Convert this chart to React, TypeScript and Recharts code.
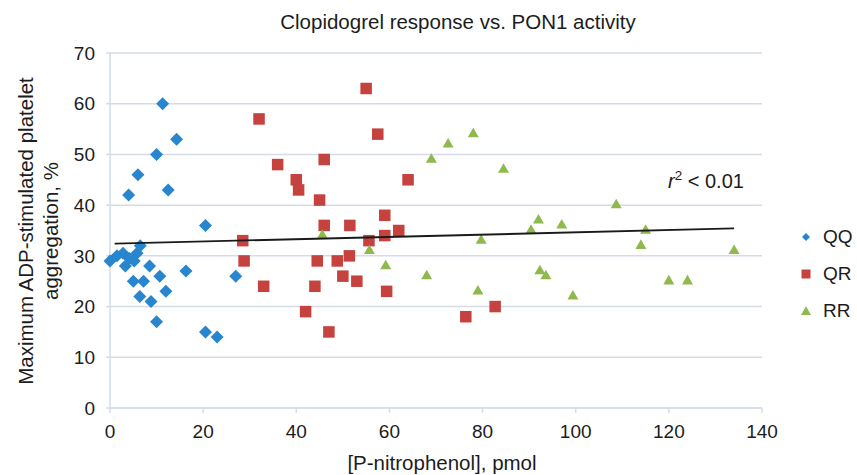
import { ScatterChart, Scatter, XAxis, YAxis, CartesianGrid, Legend } from "recharts";

const xTicks = [0, 20, 40, 60, 80, 100, 120, 140];
const yTicks = [0, 10, 20, 30, 40, 50, 60, 70];

// PON1 activity (pmol p-nitrophenol) vs. ADP-stimulated aggregation (%)
const qqPoints = [
  { x: 11.3, y: 60 }, { x: 14.3, y: 53 }, { x: 10, y: 50 }, { x: 6, y: 46 },
  { x: 12.5, y: 43 }, { x: 4, y: 42 }, { x: 20.5, y: 36 }, { x: 6.5, y: 32 },
  { x: 0, y: 29 }, { x: 1.5, y: 30 }, { x: 2.8, y: 30.5 }, { x: 3.3, y: 28 },
  { x: 4.2, y: 29.5 }, { x: 5.2, y: 29 }, { x: 5.8, y: 30.5 }, { x: 8.5, y: 28 },
  { x: 10.7, y: 26 }, { x: 16.3, y: 27 }, { x: 5, y: 25 }, { x: 7.2, y: 25 },
  { x: 12, y: 23 }, { x: 6.4, y: 22 }, { x: 8.8, y: 21 }, { x: 10, y: 17 },
  { x: 20.5, y: 15 }, { x: 23, y: 14 }, { x: 27, y: 26 },
];

const qrPoints = [
  { x: 55, y: 63 }, { x: 32, y: 57 }, { x: 57.5, y: 54 }, { x: 36, y: 48 },
  { x: 46, y: 49 }, { x: 64, y: 45 }, { x: 40, y: 45 }, { x: 40.5, y: 43 },
  { x: 45, y: 41 }, { x: 59, y: 38 }, { x: 46, y: 36 }, { x: 51.5, y: 36 },
  { x: 62, y: 35 }, { x: 59, y: 34 }, { x: 55.6, y: 33 }, { x: 28.5, y: 33 },
  { x: 28.8, y: 29 }, { x: 51.4, y: 30 }, { x: 48.8, y: 29 }, { x: 44.5, y: 29 },
  { x: 50, y: 26 }, { x: 53, y: 25 }, { x: 33, y: 24 }, { x: 44, y: 24 },
  { x: 59.4, y: 23 }, { x: 42, y: 19 }, { x: 47, y: 15 }, { x: 76.4, y: 18 },
  { x: 82.7, y: 20 },
];

const rrPoints = [
  { x: 78, y: 54 }, { x: 72.6, y: 52 }, { x: 69, y: 49 }, { x: 84.5, y: 47 },
  { x: 92, y: 37 }, { x: 97, y: 36 }, { x: 90.4, y: 35 }, { x: 79.7, y: 33 },
  { x: 68, y: 26 }, { x: 92.3, y: 27 }, { x: 93.6, y: 26 }, { x: 79, y: 23 },
  { x: 99.4, y: 22 }, { x: 108.7, y: 40 }, { x: 115, y: 35 }, { x: 114, y: 32 },
  { x: 134, y: 31 }, { x: 120, y: 25 }, { x: 124, y: 25 }, { x: 45.6, y: 34 },
  { x: 55.7, y: 31 }, { x: 59.2, y: 28 },
];

// linear fit across all genotypes
const trendPoints = [
  { x: 1, y: 32.4 },
  { x: 134, y: 35.4 },
];

const FONT = '"Liberation Sans", Arial, Helvetica, sans-serif';
const TEXT = "#1c1c1c";
const GRID = "#d5dce7";
const BLUE = "#2886cf";
const RED = "#c5423e";
const GREEN = "#8fb94c";

const Diamond = ({ cx, cy, fill, r = 6.5 }: any) => (
  <path d={`M${cx},${cy - r}L${cx + r},${cy}L${cx},${cy + r}L${cx - r},${cy}Z`} fill={fill} />
);

const Square = ({ cx, cy, fill, s = 11.5 }: any) => (
  <rect x={cx - s / 2} y={cy - s / 2} width={s} height={s} fill={fill} />
);

const Triangle = ({ cx, cy, fill, s = 11 }: any) => {
  const h = (s * Math.sqrt(3)) / 2;
  return (
    <path
      d={`M${cx},${cy - (2 * h) / 3}L${cx + s / 2},${cy + h / 3}L${cx - s / 2},${cy + h / 3}Z`}
      fill={fill}
    />
  );
};

const iconFor: Record<string, (color: string) => JSX.Element> = {
  QQ: (c) => <Diamond cx={7} cy={7} r={4} fill={c} />,
  QR: (c) => <Square cx={7} cy={7} s={9} fill={c} />,
  RR: (c) => <Triangle cx={7} cy={8} s={10} fill={c} />,
};

const renderLegend = (props: any) => {
  const items = (props.payload || []).filter((p: any) => iconFor[p.value]);
  return (
    <div style={{ fontFamily: FONT, fontSize: 19, color: TEXT }}>
      {items.map((p: any) => (
        <div key={p.value} style={{ display: "flex", alignItems: "center", height: 37 }}>
          <svg width={14} height={14}>{iconFor[p.value](p.color)}</svg>
          <span style={{ marginLeft: 10 }}>{p.value}</span>
        </div>
      ))}
    </div>
  );
};

export default function App() {
  const tick = { fill: TEXT, fontSize: 19, fontFamily: FONT };
  return (
    <div style={{ position: "absolute", left: 0, top: 0, width: 857, height: 475, background: "#fff" }}>
      <ScatterChart width={857} height={475} margin={{ top: 53, right: 95, bottom: 7, left: 50 }}>
        <CartesianGrid vertical={false} stroke={GRID} strokeWidth={1.5} />
        <XAxis
          type="number"
          dataKey="x"
          domain={[0, 140]}
          ticks={xTicks}
          height={60}
          tick={tick}
          tickSize={5}
          tickMargin={12}
          axisLine={{ stroke: GRID, strokeWidth: 1.5 }}
          tickLine={{ stroke: GRID, strokeWidth: 1.5 }}
        />
        <YAxis
          type="number"
          dataKey="y"
          domain={[0, 70]}
          ticks={yTicks}
          width={60}
          tick={tick}
          tickSize={4}
          tickMargin={11}
          axisLine={{ stroke: GRID, strokeWidth: 1.5 }}
          tickLine={{ stroke: GRID, strokeWidth: 1.5 }}
        />
        <Legend
          layout="vertical"
          align="center"
          verticalAlign="middle"
          content={renderLegend}
          wrapperStyle={{ left: 799, top: 218, width: 60 }}
        />
        <Scatter name="QQ" data={qqPoints} fill={BLUE} isAnimationActive={false}
          shape={(p: any) => <Diamond cx={p.cx} cy={p.cy} fill={BLUE} />} />
        <Scatter name="QR" data={qrPoints} fill={RED} isAnimationActive={false}
          shape={(p: any) => <Square cx={p.cx} cy={p.cy} fill={RED} />} />
        <Scatter name="RR" data={rrPoints} fill={GREEN} isAnimationActive={false}
          shape={(p: any) => <Triangle cx={p.cx} cy={p.cy} fill={GREEN} />} />
        <Scatter
          name="trend"
          data={trendPoints}
          legendType="none"
          line={{ stroke: "#1a1a1a", strokeWidth: 1.8 }}
          shape={() => <g />}
          isAnimationActive={false}
        />
      </ScatterChart>
      <svg
        width={857}
        height={475}
        style={{ position: "absolute", left: 0, top: 0, pointerEvents: "none" }}
        fontFamily={FONT}
        fill={TEXT}
      >
        <text x={458} y={29} textAnchor="middle" fontSize={20.5}>
          Clopidogrel response vs. PON1 activity
        </text>
        <text x={442} y={470} textAnchor="middle" fontSize={20.5}>
          [P-nitrophenol], pmol
        </text>
        <g transform="translate(25,231) rotate(-90)">
          <text textAnchor="middle" dominantBaseline="central" fontSize={20.5}>
            Maximum ADP-stimulated platelet
          </text>
        </g>
        <g transform="translate(50,231) rotate(-90)">
          <text textAnchor="middle" dominantBaseline="central" fontSize={20.5}>
            aggregation, %
          </text>
        </g>
        <text x={668} y={188} fontSize={20}>
          <tspan fontStyle="italic">r</tspan>
          <tspan dy={-8} fontSize={13.5}>2</tspan>
          <tspan dy={8}> &lt; 0.01</tspan>
        </text>
      </svg>
    </div>
  );
}
